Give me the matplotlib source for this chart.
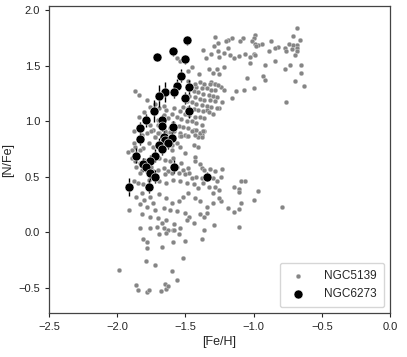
import numpy as np
import matplotlib
matplotlib.use('Agg')
import matplotlib.pyplot as plt
import seaborn as sns

# NGC5139 (omega Cen), split by region
# upper branch
fe_top = [-0.68, -0.71, -0.66, -0.74, -0.71, -0.68, -0.68, -0.72, -0.77, -0.76,
          -0.68, -0.70, -0.82, -0.84, -0.87, -0.89, -0.94, -0.97, -0.99, -1.00,
          -1.01, -0.99, -0.98, -1.00, -0.99, -1.03, -1.03, -0.92, -0.84, -0.77,
          -0.73, -0.65, -0.65, -0.70, -0.63, -0.76, -0.93, -0.92, -1.05, -1.00,
          -1.07, -1.13, -1.16, -1.08, -1.10, -1.16, -1.19, -1.20, -1.19, -1.17,
          -1.14, -1.11, -1.06, -1.22, -1.26, -1.25, -1.28, -1.29, -1.26, -1.31,
          -1.35, -1.37, -1.33, -1.30, -1.27, -1.25, -1.22, -1.31, -1.28, -1.24,
          -1.22, -1.23, -1.25, -1.34, -1.36, -1.38]
nfe_top = [1.84, 1.77, 1.73, 1.70, 1.69, 1.69, 1.66, 1.65, 1.66, 1.63,
           1.63, 1.60, 1.67, 1.66, 1.72, 1.63, 1.70, 1.69, 1.78, 1.75,
           1.72, 1.70, 1.68, 1.61, 1.60, 1.58, 1.53, 1.51, 1.54, 1.47,
           1.51, 1.51, 1.44, 1.36, 1.32, 1.17, 1.41, 1.37, 1.39, 1.30,
           1.28, 1.27, 1.21, 1.75, 1.72, 1.75, 1.73, 1.72, 1.66, 1.60,
           1.57, 1.59, 1.61, 1.62, 1.63, 1.58, 1.76, 1.68, 1.71, 1.61,
           1.57, 1.64, 1.47, 1.44, 1.47, 1.43, 1.49, 1.35, 1.34, 1.31,
           1.28, 1.17, 1.12, 1.10, 0.91, 0.88]

# dense core
fe_core = [-1.39, -1.36, -1.32, -1.28, -1.26, -1.42, -1.38, -1.34, -1.31, -1.28,
           -1.44, -1.41, -1.37, -1.33, -1.30, -1.27, -1.47, -1.43, -1.39, -1.36,
           -1.32, -1.28, -1.49, -1.45, -1.42, -1.38, -1.34, -1.31, -1.27, -1.52,
           -1.48, -1.44, -1.41, -1.37, -1.33, -1.30, -1.54, -1.50, -1.47, -1.43,
           -1.39, -1.36, -1.56, -1.53, -1.49, -1.45, -1.42, -1.38, -1.59, -1.55,
           -1.52, -1.48, -1.44, -1.61, -1.58, -1.54, -1.50, -1.64, -1.60, -1.70,
           -1.66, -1.63, -1.60, -1.58, -1.64, -1.66, -1.70, -1.74, -1.76, -1.69,
           -1.72, -1.56, -1.54, -1.45, -1.48, -1.40, -1.48, -1.43, -1.87, -1.84,
           -1.78, -1.42, -1.39, -1.37, -1.45, -1.49, -1.54, -1.41, -1.38, -1.80,
           -1.76, -1.72, -1.69, -1.84, -1.66]
nfe_core = [1.35, 1.34, 1.34, 1.34, 1.33, 1.31, 1.30, 1.30, 1.28, 1.28,
            1.27, 1.26, 1.25, 1.24, 1.23, 1.22, 1.23, 1.22, 1.20, 1.19,
            1.19, 1.18, 1.18, 1.17, 1.16, 1.15, 1.14, 1.13, 1.12, 1.13,
            1.12, 1.11, 1.10, 1.09, 1.08, 1.07, 1.09, 1.07, 1.06, 1.04,
            1.04, 1.03, 1.04, 1.02, 1.00, 1.00, 0.98, 0.97, 0.98, 0.96,
            0.95, 0.94, 0.92, 0.94, 0.91, 0.89, 0.88, 0.89, 0.86, 0.97,
            1.00, 1.03, 1.07, 1.12, 1.10, 1.06, 1.01, 0.92, 0.97, 0.89,
            0.86, 1.57, 1.54, 1.49, 1.45, 1.43, 1.36, 1.34, 1.27, 1.24,
            1.19, 0.92, 0.89, 0.91, 0.91, 0.87, 0.87, 0.86, 0.86, 1.08,
            1.13, 1.16, 1.12, 1.04, 1.14]

# middle / lower part
fe_mid = [-1.88, -1.82, -1.78, -1.75, -1.72, -1.70, -1.65, -1.61, -1.53, -1.48,
          -1.43, -1.39, -1.37, -1.64, -1.60, -1.56, -1.77, -1.74, -1.67, -1.88,
          -1.87, -1.81, -1.83, -1.92, -1.89, -1.44, -1.41, -1.54, -1.60, -1.50,
          -1.43, -1.89, -1.87, -1.83, -1.80, -1.76, -1.69, -1.65, -1.61, -1.59,
          -1.56, -1.53, -1.52, -1.48, -1.47, -1.43, -1.39, -1.38, -1.36, -1.32,
          -1.28, -1.86, -1.82, -1.78, -1.75, -1.70, -1.66, -1.63, -1.60, -1.83,
          -1.77, -1.74, -1.65, -1.55, -1.50, -1.45, -1.42, -1.38, -1.30, -1.27,
          -1.28, -1.88, -1.85, -1.81, -1.77, -1.72, -1.69, -1.64, -1.59, -1.54,
          -1.49, -1.44, -1.41, -1.37, -1.33, -1.30, -1.86, -1.82, -1.80, -1.76,
          -1.74, -1.69, -1.64, -1.60, -1.55, -1.52, -1.48, -1.43, -1.39, -1.34,
          -1.30, -1.91, -1.83, -1.78, -1.72, -1.66, -1.61, -1.56, -1.50, -1.47,
          -1.39, -1.36, -1.34, -1.82, -1.76, -1.70, -1.64, -1.67, -1.71, -1.66,
          -1.63, -1.58, -1.54, -1.49, -1.44, -1.76, -1.83, -1.50, -1.59]
nfe_mid = [0.91, 0.88, 0.89, 0.91, 0.86, 0.89, 0.91, 0.90, 0.87, 0.87,
           0.88, 0.89, 0.91, 0.80, 0.79, 0.80, 0.80, 0.77, 0.76, 0.80,
           0.77, 0.76, 0.74, 0.72, 0.74, 0.79, 0.77, 0.77, 0.74, 0.71,
           0.68, 0.67, 0.64, 0.62, 0.65, 0.64, 0.67, 0.65, 0.64, 0.67,
           0.59, 0.62, 0.56, 0.58, 0.53, 0.64, 0.61, 0.58, 0.56, 0.57,
           0.55, 0.59, 0.56, 0.58, 0.59, 0.56, 0.58, 0.55, 0.53, 0.53,
           0.53, 0.55, 0.52, 0.53, 0.52, 0.49, 0.50, 0.49, 0.49, 0.46,
           0.41, 0.46, 0.44, 0.43, 0.47, 0.50, 0.46, 0.44, 0.47, 0.46,
           0.44, 0.43, 0.40, 0.44, 0.41, 0.35, 0.32, 0.35, 0.29, 0.32,
           0.26, 0.34, 0.31, 0.26, 0.28, 0.32, 0.35, 0.31, 0.28, 0.23,
           0.26, 0.20, 0.25, 0.23, 0.20, 0.22, 0.20, 0.19, 0.17, 0.14,
           0.16, 0.14, 0.17, 0.16, 0.14, 0.13, 0.11, 0.08, 0.05, 0.04,
           0.02, 0.07, 0.04, 0.11, 0.08, 0.04, 0.04, -0.08, 0.02]

fe_low = [-1.81, -1.78, -1.78, -1.67, -1.59, -1.69, -1.64, -1.58, -1.55, -1.38,
          -1.36, -1.79, -1.72, -1.52, -1.99, -1.60, -1.56, -1.86, -1.85, -1.78,
          -1.77, -1.68, -1.65, -1.64, -1.63]
nfe_low = [-0.06, -0.09, -0.14, -0.13, -0.09, -0.02, -0.01, 0.02, -0.02, -0.06,
           0.02, -0.26, -0.30, -0.23, -0.34, -0.35, -0.43, -0.48, -0.52, -0.54,
           -0.52, -0.53, -0.47, -0.51, -0.49]

# stragglers on the right of the lower branch
fe_right = [-1.23, -1.24, -1.09, -1.06, -1.14, -1.11, -1.11, -0.97, -1.00, -1.09,
            -1.24, -1.19, -1.14, -1.11, -1.25, -1.11, -0.79, -1.25, -1.29]
nfe_right = [0.57, 0.50, 0.46, 0.46, 0.41, 0.39, 0.36, 0.37, 0.29, 0.26,
             0.28, 0.22, 0.18, 0.21, 0.31, 0.05, 0.23, 0.38, 0.06]

fe_5139 = fe_top + fe_core + fe_mid + fe_low + fe_right
nfe_5139 = nfe_top + nfe_core + nfe_mid + nfe_low + nfe_right

# NGC6273 with errors on [N/Fe]
fe_6273 = [-1.49, -1.71, -1.59, -1.50, -1.53, -1.56, -1.47, -1.65, -1.58, -1.69,
           -1.50, -1.73, -1.47, -1.79, -1.67, -1.67, -1.83, -1.59, -1.83, -1.66,
           -1.65, -1.60, -1.69, -1.63, -1.67, -1.86, -1.72, -1.76, -1.81, -1.79,
           -1.58, -1.76, -1.72, -1.34, -1.91, -1.77]
nfe_6273 = [1.73, 1.58, 1.63, 1.56, 1.41, 1.32, 1.31, 1.26, 1.26, 1.23,
            1.21, 1.09, 1.09, 1.01, 1.01, 0.96, 0.94, 0.95, 0.84, 0.86,
            0.83, 0.85, 0.79, 0.80, 0.75, 0.69, 0.69, 0.64, 0.61, 0.59,
            0.59, 0.53, 0.50, 0.50, 0.41, 0.41]
err_6273 = [0.04, 0.04, 0.04, 0.04, 0.06, 0.06, 0.06, 0.09, 0.05, 0.10,
            0.05, 0.10, 0.06, 0.06, 0.05, 0.05, 0.05, 0.05, 0.05, 0.05,
            0.05, 0.05, 0.06, 0.05, 0.05, 0.07, 0.06, 0.06, 0.06, 0.06,
            0.06, 0.06, 0.06, 0.04, 0.08, 0.06]

sns.set_style('ticks')
plt.rcParams['font.family'] = ['Liberation Sans', 'DejaVu Sans']

fig = plt.figure(figsize=(4.07, 3.57), dpi=100)
ax = fig.add_axes([0.1204, 0.1232, 0.8378, 0.86])

ax.scatter(fe_5139, nfe_5139, s=12, c='#858585', edgecolors='white',
           linewidths=0.2, label='NGC5139', zorder=2)
ax.errorbar(fe_6273, nfe_6273, yerr=err_6273, fmt='none', ecolor='black',
            elinewidth=1.0, zorder=3)
ax.scatter(fe_6273, nfe_6273, s=42, c='black', edgecolors='white',
           linewidths=0.4, label='NGC6273', zorder=4)

ax.set_xlim(-2.5, 0.0)
ax.set_ylim(-0.73, 2.04)
ax.set_xticks(np.arange(-2.5, 0.01, 0.5))
ax.set_yticks(np.arange(-0.5, 2.01, 0.5))
ax.tick_params(labelsize=8, length=3, width=0.8)
for sp in ax.spines.values():
    sp.set_linewidth(0.9)
    sp.set_color('#444444')

ax.set_xlabel('[Fe/H]', fontsize=9, labelpad=3)
ax.set_ylabel('[N/Fe]', fontsize=9, labelpad=3)
ax.legend(loc='lower right', fontsize=8.5, borderpad=0.6, handletextpad=1.2)

fig.savefig('out.png', dpi=100)
